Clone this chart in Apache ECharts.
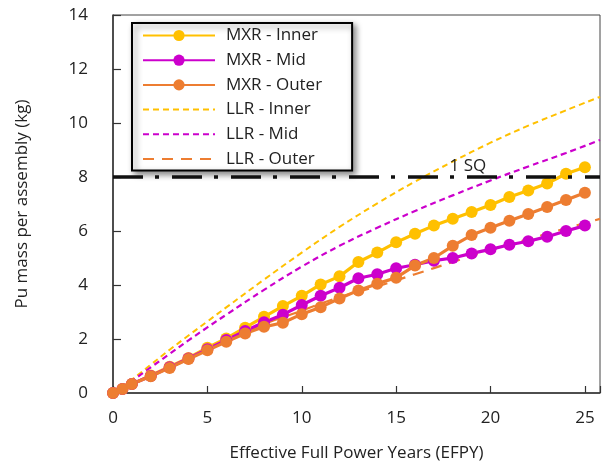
<!DOCTYPE html>
<html>
<head>
<meta charset="utf-8">
<script src="https://cdn.jsdelivr.net/npm/echarts@6/dist/echarts.min.js"></script>
<style>
  html, body { margin: 0; padding: 0; background: #fff; }
  #chart { width: 607px; height: 465px; }
</style>
</head>
<body>
<div id="chart"></div>
<script>
// MXR results, one point per year (plus half year at start)
var mxrYears = [0, 0.5, 1, 2, 3, 4, 5, 6, 7, 8, 9, 10, 11, 12, 13, 14, 15, 16, 17, 18, 19, 20, 21, 22, 23, 24, 25]
var mxrInner = [0, 0.15, 0.33, 0.65, 0.97, 1.3, 1.68, 2.02, 2.42, 2.82, 3.22, 3.6, 4.02, 4.32, 4.85, 5.2, 5.58, 5.9, 6.2, 6.45, 6.7, 6.96, 7.26, 7.5, 7.76, 8.12, 8.36]
var mxrMid = [0, 0.15, 0.33, 0.63, 0.95, 1.28, 1.62, 1.96, 2.3, 2.62, 2.9, 3.26, 3.6, 3.9, 4.25, 4.4, 4.62, 4.75, 4.9, 5.0, 5.17, 5.32, 5.49, 5.62, 5.79, 6.0, 6.2]
var mxrOuter = [0, 0.15, 0.33, 0.62, 0.93, 1.26, 1.58, 1.9, 2.2, 2.45, 2.6, 2.92, 3.18, 3.5, 3.8, 4.05, 4.27, 4.72, 5.0, 5.45, 5.85, 6.12, 6.38, 6.63, 6.89, 7.15, 7.42]

// LLR curves (smooth dashed)
var llrYears = [0, 1, 2, 3, 4, 5, 6, 8, 10, 12, 14, 16, 18, 20, 22, 24, 25.8]
var llrInner = [0, 0.5, 1.05, 1.6, 2.13, 2.65, 3.17, 4.2, 5.2, 6.15, 7.02, 7.83, 8.57, 9.27, 9.9, 10.47, 10.97]
var llrMid = [0, 0.45, 0.95, 1.45, 1.95, 2.43, 2.9, 3.82, 4.68, 5.45, 6.12, 6.74, 7.32, 7.87, 8.39, 8.89, 9.37]
var llrOuter = [0, 0.33, 0.65, 0.98, 1.3, 1.62, 1.95, 2.55, 3.05, 3.55, 3.95, 4.4, 4.85, 5.3, 5.7, 6.1, 6.45]

var sqValue = 8
var sqLabelYear = 18.8
var xMax = 25.8

var FONT = 'Open Sans'
var yellow = '#FFC000'
var magenta = '#CC00CC'
var orange = '#ED7D31'

function pairs(xs, ys) {
  return xs.map(function (x, i) { return [x, ys[i]] })
}

function mxr(name, ys, color) {
  return {
    name: name,
    type: 'line',
    data: pairs(mxrYears, ys),
    symbol: 'circle',
    symbolSize: 12,
    clip: false,
    z: 3,
    itemStyle: { color: color },
    lineStyle: { color: color, width: 3.2 }
  }
}

function llr(name, ys, color, dash, width) {
  return {
    name: name,
    type: 'line',
    data: pairs(llrYears, ys),
    smooth: 0.4,
    symbol: 'none',
    z: 2,
    itemStyle: { color: color },
    lineStyle: { color: color, width: width, type: dash }
  }
}

var myChart = echarts.init(document.getElementById('chart'))
var option = {
  animation: false,
  textStyle: { fontFamily: FONT },
  grid: {
    left: 113, right: 7, top: 15, bottom: 72,
    outerBoundsMode: 'none',
    show: true, borderColor: '#444', borderWidth: 1
  },
  legend: {
    orient: 'vertical',
    left: 132,
    top: 23,
    padding: [4, 30, 3, 10],
    itemWidth: 72,
    itemHeight: 14,
    itemGap: 7.7,
    backgroundColor: '#fff',
    borderColor: '#000',
    borderWidth: 2,
    shadowColor: 'rgba(0,0,0,0.45)',
    shadowBlur: 6,
    shadowOffsetX: 3,
    shadowOffsetY: 3,
    textStyle: { fontFamily: FONT, fontSize: 17, lineHeight: 17, color: '#222', padding: [0, 0, 0, 6] },
    data: [
      'MXR - Inner', 'MXR - Mid', 'MXR - Outer',
      { name: 'LLR - Inner', itemStyle: { opacity: 0 } },
      { name: 'LLR - Mid', itemStyle: { opacity: 0 } },
      { name: 'LLR - Outer', itemStyle: { opacity: 0 } }
    ]
  },
  xAxis: {
    type: 'value',
    min: 0,
    max: xMax,
    interval: 5,
    name: 'Effective Full Power Years (EFPY)',
    nameLocation: 'middle',
    nameGap: 52,
    nameTextStyle: { fontFamily: FONT, fontSize: 17, color: '#222' },
    splitLine: { show: false },
    axisLine: { lineStyle: { color: '#333', width: 1.5 } },
    axisTick: { inside: true, length: 7, lineStyle: { color: '#333', width: 1.2 } },
    axisLabel: {
      fontFamily: FONT, fontSize: 17, color: '#222', margin: 17,
      formatter: function (v) { return v % 5 === 0 ? String(v) : '' }
    }
  },
  yAxis: {
    type: 'value',
    min: 0,
    max: 14,
    interval: 2,
    name: 'Pu mass per assembly (kg)',
    nameLocation: 'middle',
    nameGap: 82,
    nameTextStyle: { fontFamily: FONT, fontSize: 17, color: '#222' },
    splitLine: { show: false },
    axisLine: { show: true, lineStyle: { color: '#333', width: 1.5 } },
    axisTick: { inside: true, length: 8, lineStyle: { color: '#333', width: 1.2 } },
    axisLabel: { fontFamily: FONT, fontSize: 17, color: '#222', margin: 25 }
  },
  series: [
    llr('LLR - Inner', llrInner, yellow, [6, 4], 2),
    llr('LLR - Mid', llrMid, magenta, [6, 4], 2.2),
    llr('LLR - Outer', llrOuter, orange, [11, 8], 2.2),
    mxr('MXR - Inner', mxrInner, yellow),
    mxr('MXR - Mid', mxrMid, magenta),
    mxr('MXR - Outer', mxrOuter, orange),
    {
      name: '1 SQ',
      type: 'line',
      data: [[0, sqValue], [xMax, sqValue]],
      symbol: 'none',
      z: 4,
      lineStyle: { color: '#111', width: 3.5, type: [30, 12, 4, 13] },
      markPoint: {
        symbol: 'circle',
        symbolSize: 1,
        itemStyle: { color: 'rgba(0,0,0,0)' },
        label: {
          show: true, position: 'top', distance: 2,
          formatter: '1 SQ', fontFamily: FONT, fontSize: 17, color: '#222'
        },
        data: [{ coord: [sqLabelYear, sqValue] }]
      }
    }
  ]
}
option && myChart.setOption(option)
</script>
</body>
</html>
